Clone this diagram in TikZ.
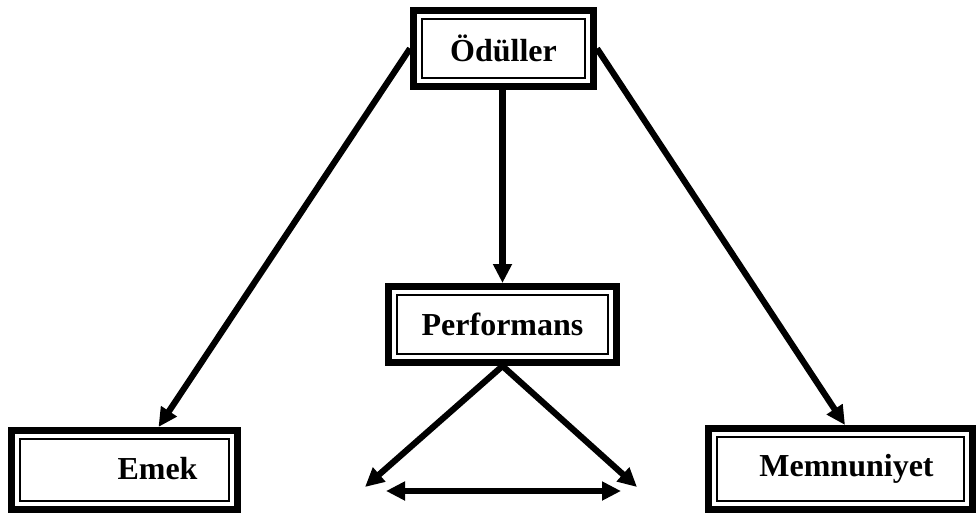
\documentclass[tikz,border=0pt]{standalone}
\usepackage{fontspec}
\setmainfont{Liberation Serif}
\usetikzlibrary{arrows.meta}
\begin{document}
\begin{tikzpicture}[x=1pt,y=-1pt,
  boxtext/.style={font=\fontsize{32}{36}\selectfont\bfseries, inner sep=0pt},
  dbox/.style={draw, line width=7pt, inner sep=0pt, outer sep=3.5pt, boxtext},
  inner/.style={draw, line width=1.6pt},
  tip/.tip={Triangle[length=19pt,width=18pt]},
  link/.style={line width=6.2pt, -tip},
  both/.style={line width=6.2pt, tip-tip}]
\useasboundingbox (0,0) rectangle (976,514);
\fill[white] (0,0) rectangle (976,514);

% boxes (thick outer frame)
\node[dbox, minimum width=180pt, minimum height=76pt] (odul) at (503.5,48.5) {Ödüller};
\node[dbox, minimum width=228pt, minimum height=76pt] (perf) at (502.5,324.5) {Performans};
\node[dbox, minimum width=226pt, minimum height=79pt] (emek) at (124.5,470) {};
\node[dbox, minimum width=264pt, minimum height=81pt] (memn) at (840.5,469) {};
\node[boxtext] (emektxt) at ([xshift=33pt,yshift=1pt]emek.center) {Emek};
\node[boxtext] (memntxt) at ([xshift=6pt,yshift=0pt]memn.center) {Memnuniyet};

% thin inner frame of every box
\foreach \n in {odul,perf,emek,memn}
  \draw[inner] ([shift={(12pt,-12pt)}]\n.north west) rectangle
               ([shift={(-12pt,12pt)}]\n.south east);

% free ends below Performans
\coordinate (lt) at (365,487);
\coordinate (rt) at (637,487);
\coordinate (da) at (386,491);
\coordinate (db) at (621,491);

% connectors
\draw[link] (odul.south -| perf.north) -- (perf.north);
\draw[link] (odul.west) -- ([xshift=34pt]emek.north);
\draw[link] (odul.east) -- ([xshift=4.5pt]memn.north);
\draw[link] (perf.south) -- (lt);
\draw[link] (perf.south) -- (rt);
\draw[both] (da) -- (db);
\end{tikzpicture}
\end{document}
